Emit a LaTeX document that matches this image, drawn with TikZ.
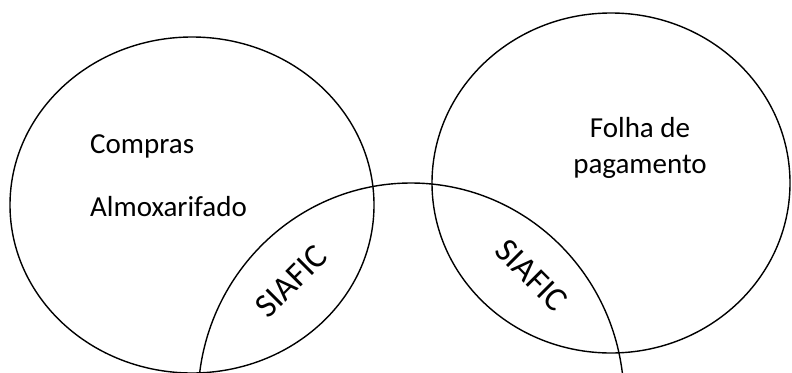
\documentclass[tikz,border=0pt]{standalone}
\usepackage{fontspec}
\setmainfont{Carlito}
\begin{document}
\begin{tikzpicture}[x=1pt,y=-1pt,
  ring/.style={draw=black,line width=1.4pt},
  lbl/.style={font=\fontsize{29}{34}\selectfont,inner sep=0pt},
  sia/.style={font=\fontsize{34}{40}\selectfont,inner sep=0pt}]
\useasboundingbox (0,0) rectangle (792,372);
\clip (0,0) rectangle (792,372);
\draw[ring] (192,205) ellipse [x radius=182,y radius=168];
\draw[ring] (611,183) ellipse [x radius=179,y radius=170];
\draw[ring] (411,400) ellipse [x radius=213,y radius=217];
\node[lbl,anchor=base west] (compras) at (90,153) {Compras};
\node[lbl,anchor=base west] (almox) at (90,216) {Almoxarifado};
\node[lbl,anchor=base] (folha) at (640,137) {Folha de};
\node[lbl,anchor=base] (pag) at (640,173) {pagamento};
\node[sia,rotate=45] (s1) at (291,281) {SIAFIC};
\node[sia,rotate=-45] (s2) at (532,275) {SIAFIC};
\end{tikzpicture}
\end{document}
